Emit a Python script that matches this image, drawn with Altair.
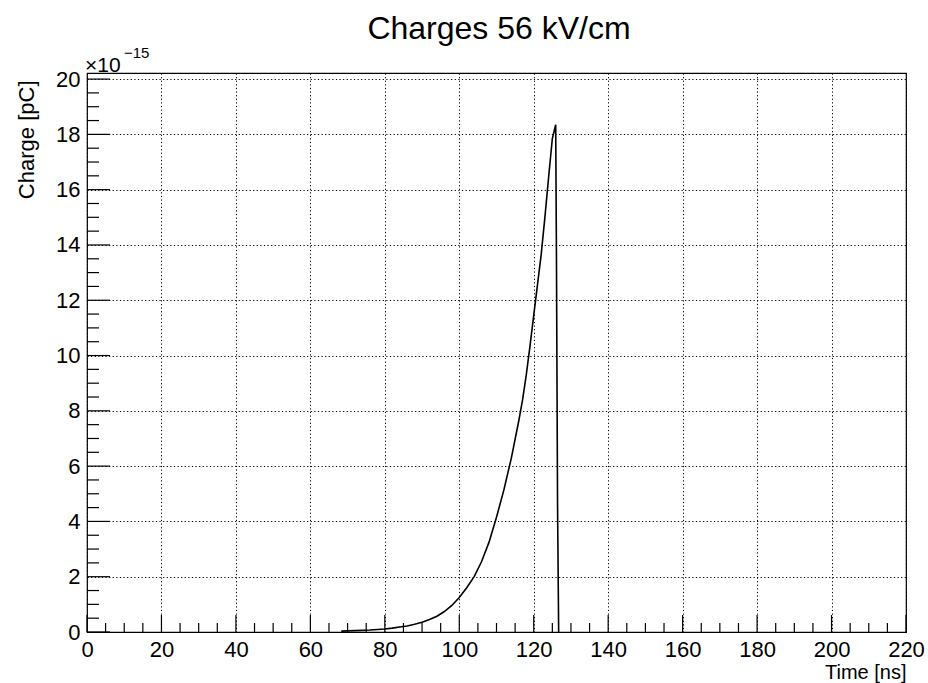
import altair as alt
import pandas as pd

# ---- data ----
time_ns = [68.3, 70, 72, 74, 76, 78, 80, 82, 84, 86, 88, 90, 92, 94, 96, 98,
           100, 102, 104, 106, 108, 110, 112, 114, 116, 117, 118, 119, 120,
           121, 122, 123, 124, 125, 125.9, 126.1, 126.4, 126.7]
charge = [0.03, 0.04, 0.05, 0.06, 0.07, 0.09, 0.11, 0.14, 0.18, 0.22, 0.28,
          0.35, 0.45, 0.57, 0.74, 0.96, 1.25, 1.6, 2.0, 2.55, 3.25, 4.15, 5.15,
          6.3, 7.65, 8.4, 9.3, 10.35, 11.45, 12.55, 13.65, 15.0, 16.45, 17.85,
          18.35, 13.7, 4.6, 0.0]

x_major = list(range(0, 221, 20))
x_minor = [v for v in range(0, 221, 5) if v % 20 != 0]
y_major = list(range(0, 21, 2))
y_minor = [v / 2 for v in range(0, 41) if v % 4 != 0]

title_text = "Charges 56 kV/cm"
x_title = "Time [ns]"
y_title = "Charge [pC]"

W, H = 819, 559
FONT = "Liberation Sans"

x_scale = alt.Scale(domain=[0, 220], nice=False, zero=False)
y_scale = alt.Scale(domain=[0, 20.22], nice=False, zero=False)

x_axis = alt.Axis(values=x_major, format="d", ticks=False, tickSize=0, domain=False,
                  grid=True, gridColor="#000000", gridDash=[1.2, 2.4], gridWidth=1,
                  labelFont=FONT, labelFontSize=22, labelColor="#000000",
                  labelPadding=7, labelFlush=False, labelOverlap=False,
                  title=x_title, titleFont=FONT, titleFontSize=20, titleFontWeight="normal",
                  titleColor="#000000", titleAlign="right", titleBaseline="alphabetic",
                  titleX=W, titleY=46, titleAnchor="end")
y_axis = alt.Axis(values=y_major, format="d", ticks=False, tickSize=0, domain=False,
                  grid=True, gridColor="#000000", gridDash=[1.2, 2.4], gridWidth=1,
                  labelFont=FONT, labelFontSize=22, labelColor="#000000",
                  labelPadding=7, labelFlush=False, labelOverlap=False,
                  title=y_title, titleFont=FONT, titleFontSize=22, titleFontWeight="normal",
                  titleColor="#000000", titleAlign="right", titleBaseline="alphabetic",
                  titleAngle=-90, titleX=-54, titleY=7, titleAnchor="end")

X = alt.X("t:Q", scale=x_scale, axis=x_axis)
Y = alt.Y("v:Q", scale=y_scale, axis=y_axis)

curve_df = pd.DataFrame({"t": time_ns, "v": charge})
line = alt.Chart(curve_df).mark_line(color="#000000", strokeWidth=1.6).encode(x=X, y=Y)

xmaj = alt.Chart(pd.DataFrame({"t": x_major})).mark_rule(color="#000000", strokeWidth=1.2).encode(
    x=X, y=alt.value(H), y2=alt.value(H - 17))
xmin = alt.Chart(pd.DataFrame({"t": x_minor})).mark_rule(color="#000000", strokeWidth=1.2).encode(
    x=X, y=alt.value(H), y2=alt.value(H - 9))
ymaj = alt.Chart(pd.DataFrame({"v": y_major})).mark_rule(color="#000000", strokeWidth=1.2).encode(
    y=Y, x=alt.value(0), x2=alt.value(23))
ymin = alt.Chart(pd.DataFrame({"v": y_minor})).mark_rule(color="#000000", strokeWidth=1.2).encode(
    y=Y, x=alt.value(0), x2=alt.value(12))

title = alt.Chart(pd.DataFrame({"s": [title_text]})).mark_text(
    font=FONT, fontSize=32, color="#000000", align="center", baseline="alphabetic").encode(
    text="s:N", x=alt.value(412), y=alt.value(-34))
mult = alt.Chart(pd.DataFrame({"s": ["×10"]})).mark_text(
    font=FONT, fontSize=21, color="#000000", align="left", baseline="alphabetic").encode(
    text="s:N", x=alt.value(-2), y=alt.value(-1))
expo = alt.Chart(pd.DataFrame({"s": ["−15"]})).mark_text(
    font=FONT, fontSize=15, color="#000000", align="left", baseline="alphabetic").encode(
    text="s:N", x=alt.value(37), y=alt.value(-15))

chart = alt.layer(line, xmaj, xmin, ymaj, ymin, title, mult, expo).properties(
    width=W, height=H,
    padding={"left": 87, "top": 73, "right": 22, "bottom": 51},
    autosize=alt.AutoSizeParams(type="none"),
    background="#ffffff",
).configure_view(stroke="#000000", strokeWidth=1.2)

chart.save("out.html", embed_options={"renderer": "svg", "actions": False})
